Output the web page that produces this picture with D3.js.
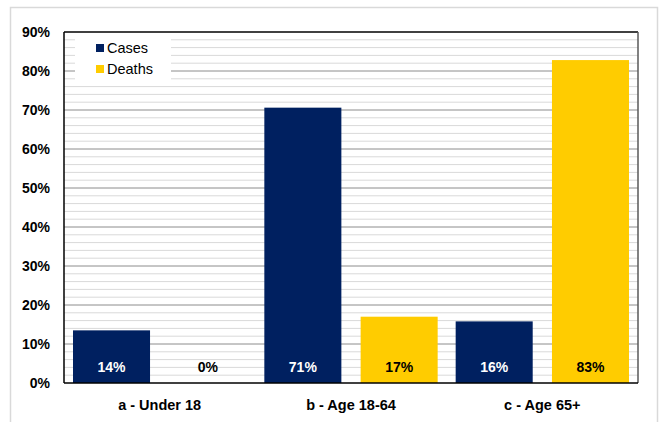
<!DOCTYPE html>
<html><head><meta charset="utf-8">
<script src="https://cdn.jsdelivr.net/npm/d3@7"></script>
<style>body{margin:0;background:#fff}svg{display:block;font-family:"Liberation Sans",Arial,sans-serif}</style>
</head><body><svg id="c" width="660" height="422"></svg>
<script>
const categories = ["a - Under 18", "b - Age 18-64", "c - Age 65+"];
const series = ["Cases", "Deaths"];
const cases = [13.5, 70.6, 15.8];
const deaths = [0, 17.0, 82.8];
const caseLabels = ["14%", "71%", "16%"];
const deathLabels = ["0%", "17%", "83%"];
const yTicks = [0, 10, 20, 30, 40, 50, 60, 70, 80, 90];
const colors = {Cases: "#002060", Deaths: "#FFCC00"};
const labelColors = {Cases: "#ffffff", Deaths: "#000000"};

const svg = d3.select("#c");
const m = {left: 64, right: 638, top: 32, bottom: 383};

svg.append("rect").attr("x", 10.5).attr("y", 7.5).attr("width", 647).attr("height", 420)
  .attr("fill", "#fff").attr("stroke", "#d9d9d9").attr("stroke-width", 1.5);

const y = d3.scaleLinear().domain([0, 90]).range([m.bottom, m.top]);
const x0 = d3.scaleBand().domain(categories).range([m.left, m.right]).paddingInner(0).paddingOuter(0);
const x1 = d3.scaleBand().domain(series).range([9, x0.bandwidth() - 9]).paddingInner(0.2);

// minor gridlines
const minor = d3.range(2, 90, 2).filter(v => v % 10 !== 0);
svg.append("g").selectAll("line").data(minor).join("line")
  .attr("x1", m.left).attr("x2", m.right).attr("y1", d => y(d)).attr("y2", d => y(d))
  .attr("stroke", "#d9d9d9").attr("stroke-width", 1);
svg.append("g").selectAll("line").data(yTicks.filter(v => v > 0 && v < 90)).join("line")
  .attr("x1", m.left).attr("x2", m.right).attr("y1", d => y(d)).attr("y2", d => y(d))
  .attr("stroke", "#8c8c8c").attr("stroke-width", 1);

// legend box
const lg = svg.append("g");
lg.append("rect").attr("x", 75).attr("y", 37).attr("width", 96).attr("height", 43).attr("fill", "#fff");
series.forEach((s, i) => {
  lg.append("rect").attr("x", 96).attr("y", 44 + i * 21).attr("width", 8).attr("height", 8).attr("fill", colors[s]);
  lg.append("text").attr("x", 107).attr("y", 48 + i * 21).attr("dy", "0.35em")
    .attr("font-size", 14.5).attr("fill", "#000").text(s);
});

// bars
const data = categories.map((c, i) => ({c, vals: [
  {s: "Cases", v: cases[i], l: caseLabels[i]},
  {s: "Deaths", v: deaths[i], l: deathLabels[i]}]}));
const g = svg.append("g").selectAll("g").data(data).join("g")
  .attr("transform", d => `translate(${x0(d.c)},0)`);
g.selectAll("rect").data(d => d.vals).join("rect")
  .attr("x", d => x1(d.s)).attr("width", x1.bandwidth())
  .attr("y", d => y(d.v)).attr("height", d => y(0) - y(d.v))
  .attr("fill", d => colors[d.s]);
g.selectAll("text").data(d => d.vals).join("text")
  .attr("x", d => x1(d.s) + x1.bandwidth() / 2).attr("y", 367).attr("dy", "0.35em")
  .attr("text-anchor", "middle").attr("font-size", 14).attr("font-weight", "bold")
  .attr("fill", d => labelColors[d.s]).text(d => d.l);

// frame
svg.append("line").attr("x1", m.left).attr("x2", m.right).attr("y1", m.top).attr("y2", m.top).attr("stroke", "#000").attr("stroke-width", 1.5);
svg.append("line").attr("x1", m.right).attr("x2", m.right).attr("y1", m.top).attr("y2", m.bottom).attr("stroke", "#595959").attr("stroke-width", 1.5);
svg.append("line").attr("x1", m.left).attr("x2", m.left).attr("y1", m.top).attr("y2", m.bottom).attr("stroke", "#000").attr("stroke-width", 1.5);
svg.append("line").attr("x1", m.left).attr("x2", m.right).attr("y1", m.bottom).attr("y2", m.bottom).attr("stroke", "#000").attr("stroke-width", 1.5);

// y axis labels
const ya = svg.append("g").attr("transform", `translate(${m.left},0)`)
  .call(d3.axisLeft(y).tickValues(yTicks).tickFormat(d => d + "%").tickSize(0).tickPadding(14));
ya.select(".domain").remove();
ya.selectAll("text").attr("font-size", 14).attr("font-weight", "bold").attr("fill", "#000")
  .attr("font-family", '"Liberation Sans",Arial,sans-serif');

// x axis labels
const xa = svg.append("g").attr("transform", `translate(0,${m.bottom})`)
  .call(d3.axisBottom(x0).tickSize(0).tickPadding(17));
xa.select(".domain").remove();
xa.selectAll("text").attr("font-size", 14.5).attr("font-weight", "bold").attr("fill", "#000")
  .attr("font-family", '"Liberation Sans",Arial,sans-serif');
</script></body></html>
